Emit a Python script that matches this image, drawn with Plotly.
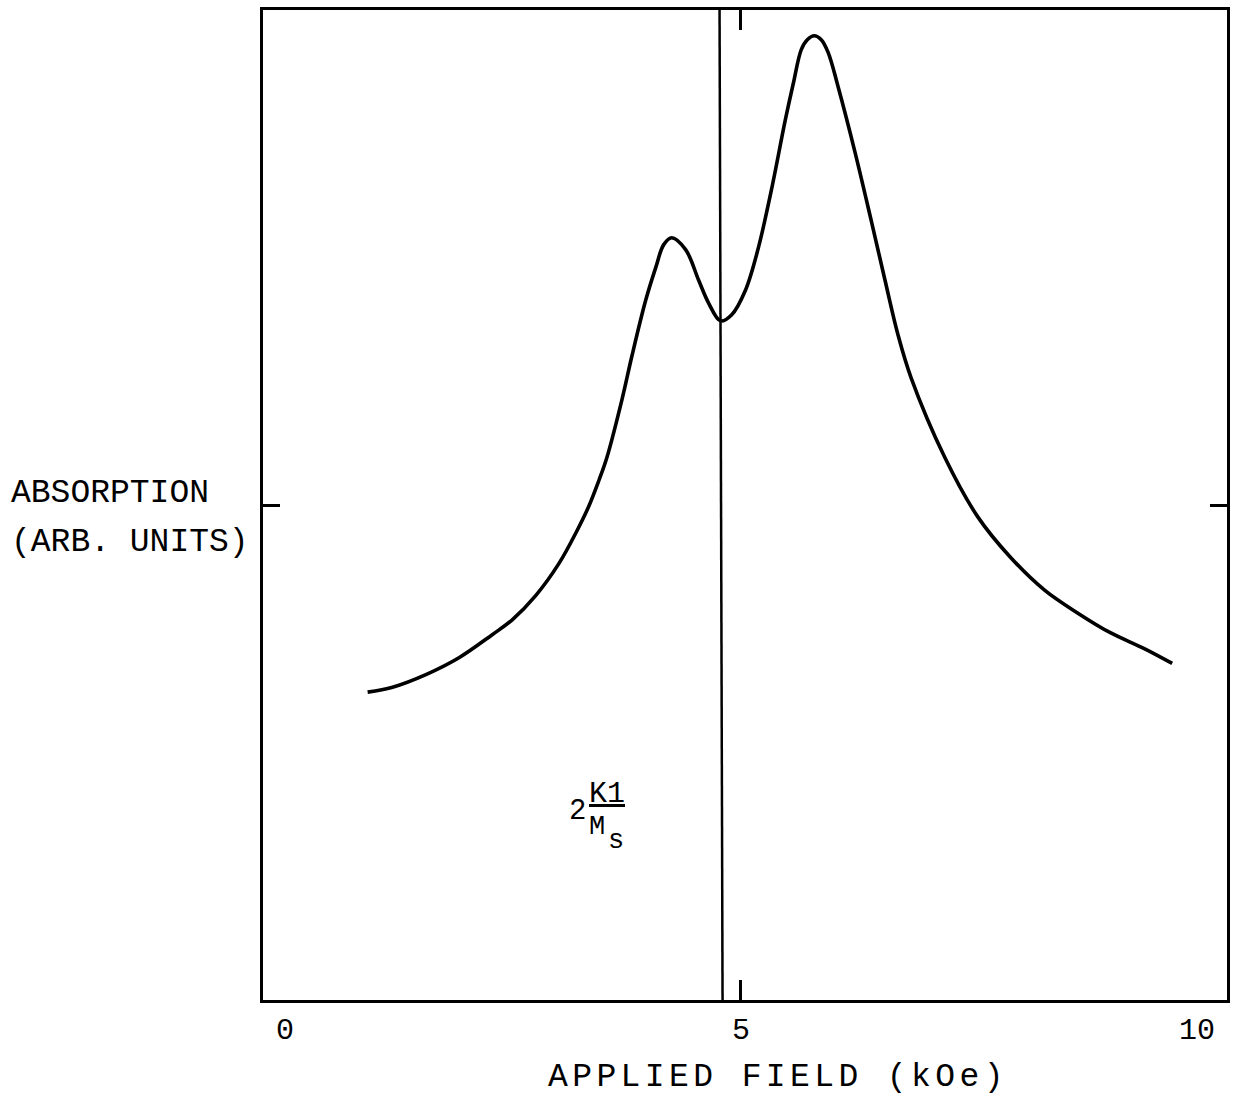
import plotly.graph_objects as go

# Absorption curve (field in kOe, absorption arb. units 0..1)
field_koe = [0.907, 1.180, 1.552, 1.913, 2.273, 2.492, 2.754, 3.005, 3.191, 3.333,
             3.443, 3.530, 3.694, 3.803, 3.956, 4.066, 4.153, 4.240, 4.393, 4.536,
             4.645, 4.776, 4.896, 5.049, 5.191, 5.333, 5.486, 5.574, 5.661,
             5.727, 5.803, 5.880, 5.956, 6.066, 6.251, 6.426, 6.579, 6.721, 6.863,
             7.235, 7.596, 7.956, 8.328, 8.689, 9.049, 9.421, 9.727]
absorption = [0.311, 0.316, 0.329, 0.346, 0.369, 0.384, 0.409, 0.441, 0.472, 0.499,
              0.525, 0.548, 0.606, 0.650, 0.707, 0.740, 0.763, 0.770, 0.758, 0.727,
              0.704, 0.686, 0.692, 0.717, 0.760, 0.818, 0.889, 0.926, 0.960,
              0.970, 0.974, 0.970, 0.957, 0.922, 0.856, 0.788, 0.727, 0.672, 0.629,
              0.548, 0.488, 0.447, 0.414, 0.391, 0.371, 0.355, 0.340]

# Vertical marker line at 2K1/Ms
marker_x = [4.765, 4.798]
marker_y = [1.0, 0.0]

x_tickvals = [0, 5, 10]
x_ticktext = ["0", "5", "10"]
x_range = [-0.240, 10.328]
y_range = [0.0, 1.0]

FONT = "Liberation Mono, Courier New, monospace"

fig = go.Figure()
fig.add_trace(go.Scatter(x=field_koe, y=absorption, mode="lines",
                         line=dict(color="black", width=3.6, shape="spline", smoothing=1.0),
                         hoverinfo="skip", showlegend=False))
fig.add_trace(go.Scatter(x=marker_x, y=marker_y, mode="lines",
                         line=dict(color="black", width=2.5),
                         hoverinfo="skip", showlegend=False))

fig.update_layout(
    width=1234, height=1097,
    margin=dict(l=263, r=4, t=10, b=97),
    paper_bgcolor="white", plot_bgcolor="white",
    font=dict(family=FONT, color="black"),
    showlegend=False,
)
fig.update_xaxes(
    range=x_range, showgrid=False, zeroline=False,
    showline=True, linecolor="black", linewidth=3, mirror="ticks",
    tickvals=x_tickvals, ticktext=x_ticktext, ticks="", ticklen=0,
    tickfont=dict(family=FONT, size=30, color="black"),
    minor=dict(tickvals=[5], ticks="inside", ticklen=20, tickwidth=3, tickcolor="black", showgrid=False),
)
fig.update_yaxes(
    range=y_range, showgrid=False, zeroline=False,
    showline=True, linecolor="black", linewidth=3, mirror="ticks",
    tickvals=[0.5], ticks="inside", ticklen=17, tickwidth=3, tickcolor="black",
    showticklabels=False,
)

ann = []
ann.append(dict(text="ABSORPTION", xref="paper", yref="paper", x=-0.2637, y=0.512,
                xanchor="left", yanchor="middle", showarrow=False,
                font=dict(family=FONT, size=33, color="black")))
ann.append(dict(text="(ARB. UNITS)", xref="paper", yref="paper", x=-0.2637, y=0.4626,
                xanchor="left", yanchor="middle", showarrow=False,
                font=dict(family=FONT, size=33, color="black")))
ann.append(dict(text='<span style="letter-spacing:4.4px">APPLIED FIELD (kOe)</span>',
                xref="paper", yref="paper", x=0.5346, y=-0.0778,
                xanchor="center", yanchor="middle", showarrow=False, borderpad=0,
                font=dict(family=FONT, size=33, color="black")))
# 2 K1 / Ms label
ann.append(dict(text="2", x=3.213, y=0.190, xref="x", yref="y", showarrow=False,
                xanchor="center", yanchor="middle", font=dict(family=FONT, size=29, color="black")))
ann.append(dict(text="<u>K1</u>", x=3.536, y=0.208, xref="x", yref="y", showarrow=False,
                xanchor="center", yanchor="middle", font=dict(family=FONT, size=30, color="black")))
ann.append(dict(text="M", x=3.421, y=0.175, xref="x", yref="y", showarrow=False,
                xanchor="center", yanchor="middle", font=dict(family=FONT, size=27, color="black")))
ann.append(dict(text="s", x=3.634, y=0.161, xref="x", yref="y", showarrow=False,
                xanchor="center", yanchor="middle", font=dict(family=FONT, size=27, color="black")))
fig.update_layout(annotations=ann)

fig.write_html("out.html")
